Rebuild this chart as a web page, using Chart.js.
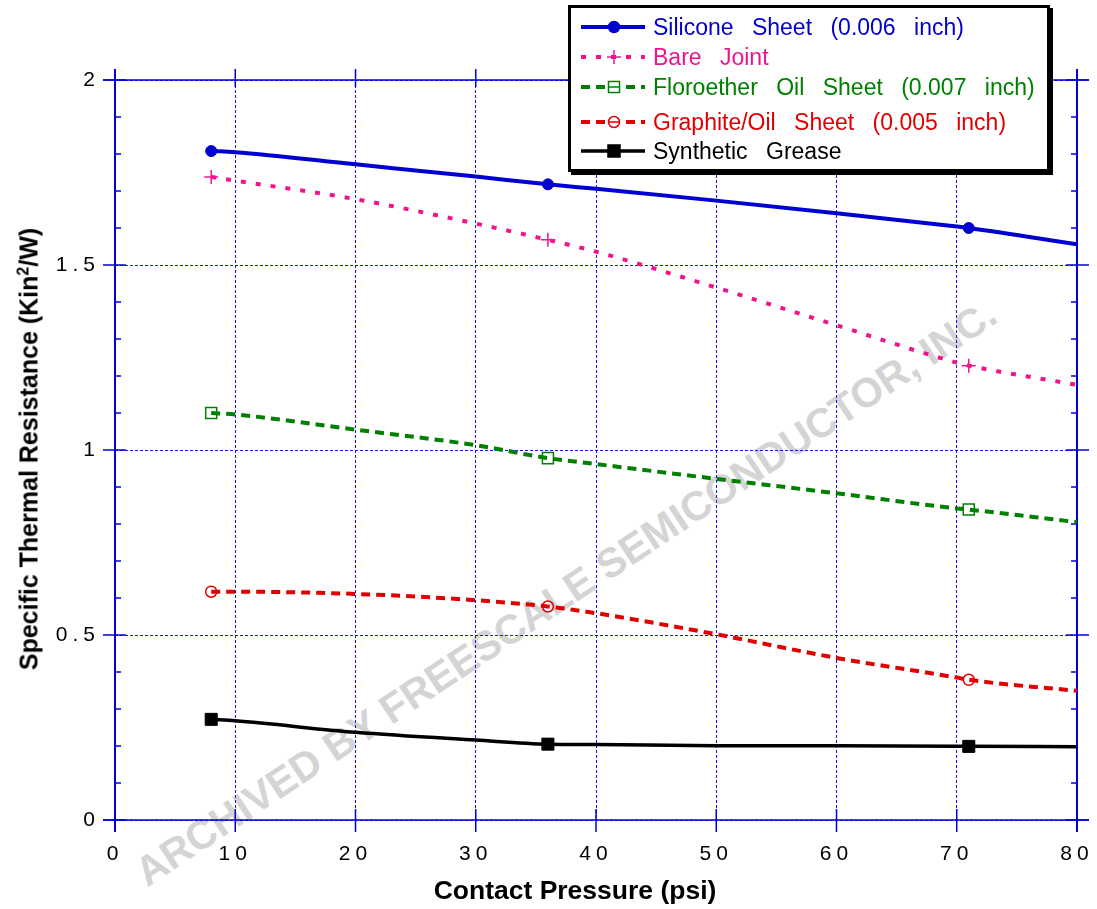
<!DOCTYPE html>
<html><head><meta charset="utf-8">
<script src="https://cdn.jsdelivr.net/npm/chart.js@4.4.1/dist/chart.umd.min.js"></script>
<style>
html,body{margin:0;padding:0;background:#fff;}
#wrap{position:relative;width:1097px;height:909px;overflow:hidden;font-family:'Liberation Sans',Arial,sans-serif;}
#wm{position:absolute;left:566px;top:593px;transform:translate(-50%,-50%) rotate(-33.6deg);font-weight:bold;font-size:41px;color:#d4d4d4;white-space:nowrap;z-index:0;}
#cv{position:absolute;left:0;top:0;z-index:1;}
#xt{position:absolute;left:575px;top:890px;transform:translate(-50%,-50%);font-weight:bold;font-size:26.5px;white-space:nowrap;z-index:2;color:#000;}
#yt{position:absolute;left:29px;top:449px;transform:translate(-50%,-50%) rotate(-90deg);font-weight:bold;font-size:25px;white-space:nowrap;z-index:2;color:#000;}
#yt sup{font-size:16px;vertical-align:9px;line-height:0;}
#legend{position:absolute;left:568px;top:5px;width:482px;height:167px;box-sizing:border-box;border:3px solid #000;box-shadow:3px 3px 0 #000;background:#fff;z-index:3;}
.row{position:absolute;left:10px;height:30px;display:flex;align-items:center;white-space:nowrap;font-size:23px;word-spacing:12px;}
.row svg{margin-right:8px;flex:none;}
</style>
</head><body>
<div id="wrap">
  <div id="wm">ARCHIVED BY FREESCALE SEMICONDUCTOR, INC.</div>
  <canvas id="cv" width="1097" height="909"></canvas>
  <div id="xt">Contact Pressure (psi)</div>
  <div id="yt">Specific Thermal Resistance (Kin<sup>2</sup>/W)</div>
  <div id="legend"></div>
</div>
<script>
// ---- data ----
const pressure = [8, 10, 20, 30, 36, 40, 50, 60, 70, 71, 80];
const markerPressure = [8, 36, 71];
const siliconeSheet = [1.808, 1.805, 1.772, 1.739, 1.718, 1.706, 1.674, 1.640, 1.604, 1.600, 1.556];
const bareJoint = [1.738, 1.728, 1.678, 1.612, 1.568, 1.536, 1.439, 1.337, 1.236, 1.228, 1.176];
const floroetherOilSheet = [1.100, 1.096, 1.055, 1.013, 0.978, 0.962, 0.922, 0.883, 0.842, 0.839, 0.805];
const graphiteOilSheet = [0.617, 0.617, 0.611, 0.594, 0.577, 0.559, 0.502, 0.438, 0.385, 0.379, 0.349];
const syntheticGrease = [0.272, 0.268, 0.237, 0.216, 0.205, 0.204, 0.201, 0.201, 0.199, 0.199, 0.198];
const seriesNames = ['Silicone Sheet (0.006 inch)', 'Bare Joint', 'Floroether Oil Sheet (0.007 inch)', 'Graphite/Oil Sheet (0.005 inch)', 'Synthetic Grease'];
const xTickValues = [0, 10, 20, 30, 40, 50, 60, 70, 80];
const yMajorTicks = [0, 0.5, 1, 1.5, 2];
const yMinorTicks = [0.1, 0.2, 0.3, 0.4, 0.6, 0.7, 0.8, 0.9, 1.1, 1.2, 1.3, 1.4, 1.6, 1.7, 1.8, 1.9];

// ---- styles ----
const styles = [
  {color:'#0000D0', width:4, dash:[], point:'circle', r:5.5, fill:true},
  {color:'#F0148C', width:4, dash:[5,10], point:'cross', r:7, fill:false},
  {color:'#008000', width:4, dash:[9,6], point:'rect', r:7.8, fill:false},
  {color:'#E00000', width:4, dash:[9,6], point:'circle', r:5.5, fill:false},
  {color:'#000000', width:3.5, dash:[], point:'rect', r:8.5, fill:true}
];
const seriesValues = [siliconeSheet, bareJoint, floroetherOilSheet, graphiteOilSheet, syntheticGrease];
const AXIS = '#0000DD';
const FONT = "'Liberation Sans', Arial, sans-serif";
Chart.defaults.font.family = FONT;

const datasets = seriesValues.map((vals, k) => {
  const s = styles[k];
  return {
    label: seriesNames[k],
    data: pressure.map((p, i) => ({x: p, y: vals[i]})),
    borderColor: s.color,
    borderWidth: s.width,
    borderDash: s.dash,
    borderCapStyle: 'butt',
    cubicInterpolationMode: 'monotone',
    pointStyle: s.point,
    pointRadius: c => markerPressure.includes(pressure[c.dataIndex]) ? s.r : 0,
    pointBorderColor: s.color,
    pointBackgroundColor: s.fill ? s.color : 'rgba(0,0,0,0)',
    pointBorderWidth: s.fill ? 1 : 1.5,
    fill: false
  };
});

const framePlugin = {
  id: 'frame',
  beforeDraw(chart) { chart.ctx.letterSpacing = '5px'; },
  beforeDatasetsDraw(chart) {
    const ctx = chart.ctx;
    ctx.letterSpacing = '0px';
    const xs = chart.scales.x, ys = chart.scales.y;
    const L = xs.getPixelForValue(0), R = xs.getPixelForValue(80);
    const T = ys.getPixelForValue(2), B = ys.getPixelForValue(0);
    ctx.save();
    ctx.strokeStyle = AXIS;
    ctx.setLineDash([]);
    const ln = (x1, y1, x2, y2, w) => { ctx.lineWidth = w; ctx.beginPath(); ctx.moveTo(x1, y1); ctx.lineTo(x2, y2); ctx.stroke(); };
    ln(L, T - 11, L, B + 12, 2);
    ln(R, T - 11, R, B + 12, 2);
    ln(L - 12, T, R + 12, T, 1.5);
    ln(L - 12, B, R + 12, B, 1.5);
    xTickValues.forEach(v => {
      const x = xs.getPixelForValue(v);
      ln(x, B - 11, x, B + 12, 1.5);
      ln(x, T - 11, x, T + 7, 1.5);
    });
    yMajorTicks.forEach(v => {
      const y = ys.getPixelForValue(v);
      ln(L - 12, y, L + 11, y, 1.5);
      ln(R - 11, y, R + 12, y, 1.5);
    });
    yMinorTicks.forEach(v => {
      const y = ys.getPixelForValue(v);
      ln(L, y, L + 6, y, 1.5);
      ln(R - 6, y, R, y, 1.5);
    });
    ctx.restore();
  }
};

new Chart(document.getElementById('cv'), {
  type: 'line',
  data: {datasets},
  options: {
    responsive: false,
    animation: false,
    events: [],
    layout: {padding: {top: 80, right: 20, left: 0, bottom: 0}},
    plugins: {legend: {display: false}, tooltip: {enabled: false}},
    scales: {
      x: {
        type: 'linear', min: 0, max: 80,
        afterFit: s => { s.height = 89; s.paddingLeft = 0; s.paddingRight = 0; },
        ticks: {stepSize: 10, color: '#000', font: {size: 21}, padding: 22, maxRotation: 0, autoSkip: false},
        grid: {color: '#1515E6', lineWidth: 1, drawTicks: false},
        border: {display: false, dash: [3, 2]}
      },
      y: {
        type: 'linear', min: 0, max: 2,
        afterFit: s => { s.width = 115; s.paddingTop = 0; s.paddingBottom = 0; },
        ticks: {stepSize: 0.5, color: '#000', font: {size: 21}, padding: 15, callback: v => String(v)},
        grid: {color: '#1515E6', lineWidth: 1, drawTicks: false},
        border: {display: false, dash: [3, 2]}
      }
    }
  },
  plugins: [framePlugin]
});

// ---- HTML legend ----
const legend = document.getElementById('legend');
const rowCenters = [19, 49, 79, 114, 143];
function swatch(s) {
  let m = '';
  const cx = 33, cy = 10;
  if (s.point === 'circle') m = `<circle cx="${cx}" cy="${cy}" r="${s.r}" fill="${s.fill ? s.color : '#fff'}" stroke="${s.color}" stroke-width="1.5"/>` + (s.fill ? '' : `<line x1="${cx - s.r}" y1="${cy}" x2="${cx + s.r}" y2="${cy}" stroke="${s.color}" stroke-width="1.5"/>`);
  else if (s.point === 'cross') m = `<line x1="${cx - 7}" y1="${cy}" x2="${cx + 7}" y2="${cy}" stroke="${s.color}" stroke-width="1.5"/><line x1="${cx}" y1="${cy - 7}" x2="${cx}" y2="${cy + 7}" stroke="${s.color}" stroke-width="1.5"/>`;
  else {
    const h = s.r * Math.SQRT1_2;
    m = `<rect x="${cx - h}" y="${cy - h}" width="${2 * h}" height="${2 * h}" fill="${s.fill ? s.color : '#fff'}" stroke="${s.color}" stroke-width="1.5"/>` + (s.fill ? '' : `<line x1="${cx - h}" y1="${cy}" x2="${cx + h}" y2="${cy}" stroke="${s.color}" stroke-width="1.5"/>`);
  }
  const dash = s.dash.length ? `stroke-dasharray="${s.dash.join(' ')}"` : '';
  return `<svg width="64" height="20" viewBox="0 0 64 20"><line x1="0" y1="10" x2="64" y2="10" stroke="${s.color}" stroke-width="${s.width}" ${dash}/>${m}</svg>`;
}
seriesNames.forEach((name, k) => {
  const row = document.createElement('div');
  row.className = 'row';
  row.style.top = (rowCenters[k] - 15) + 'px';
  row.style.color = styles[k].color;
  row.innerHTML = swatch(styles[k]) + '<span></span>';
  row.querySelector('span').textContent = name;
  legend.appendChild(row);
});
</script>
</body></html>
